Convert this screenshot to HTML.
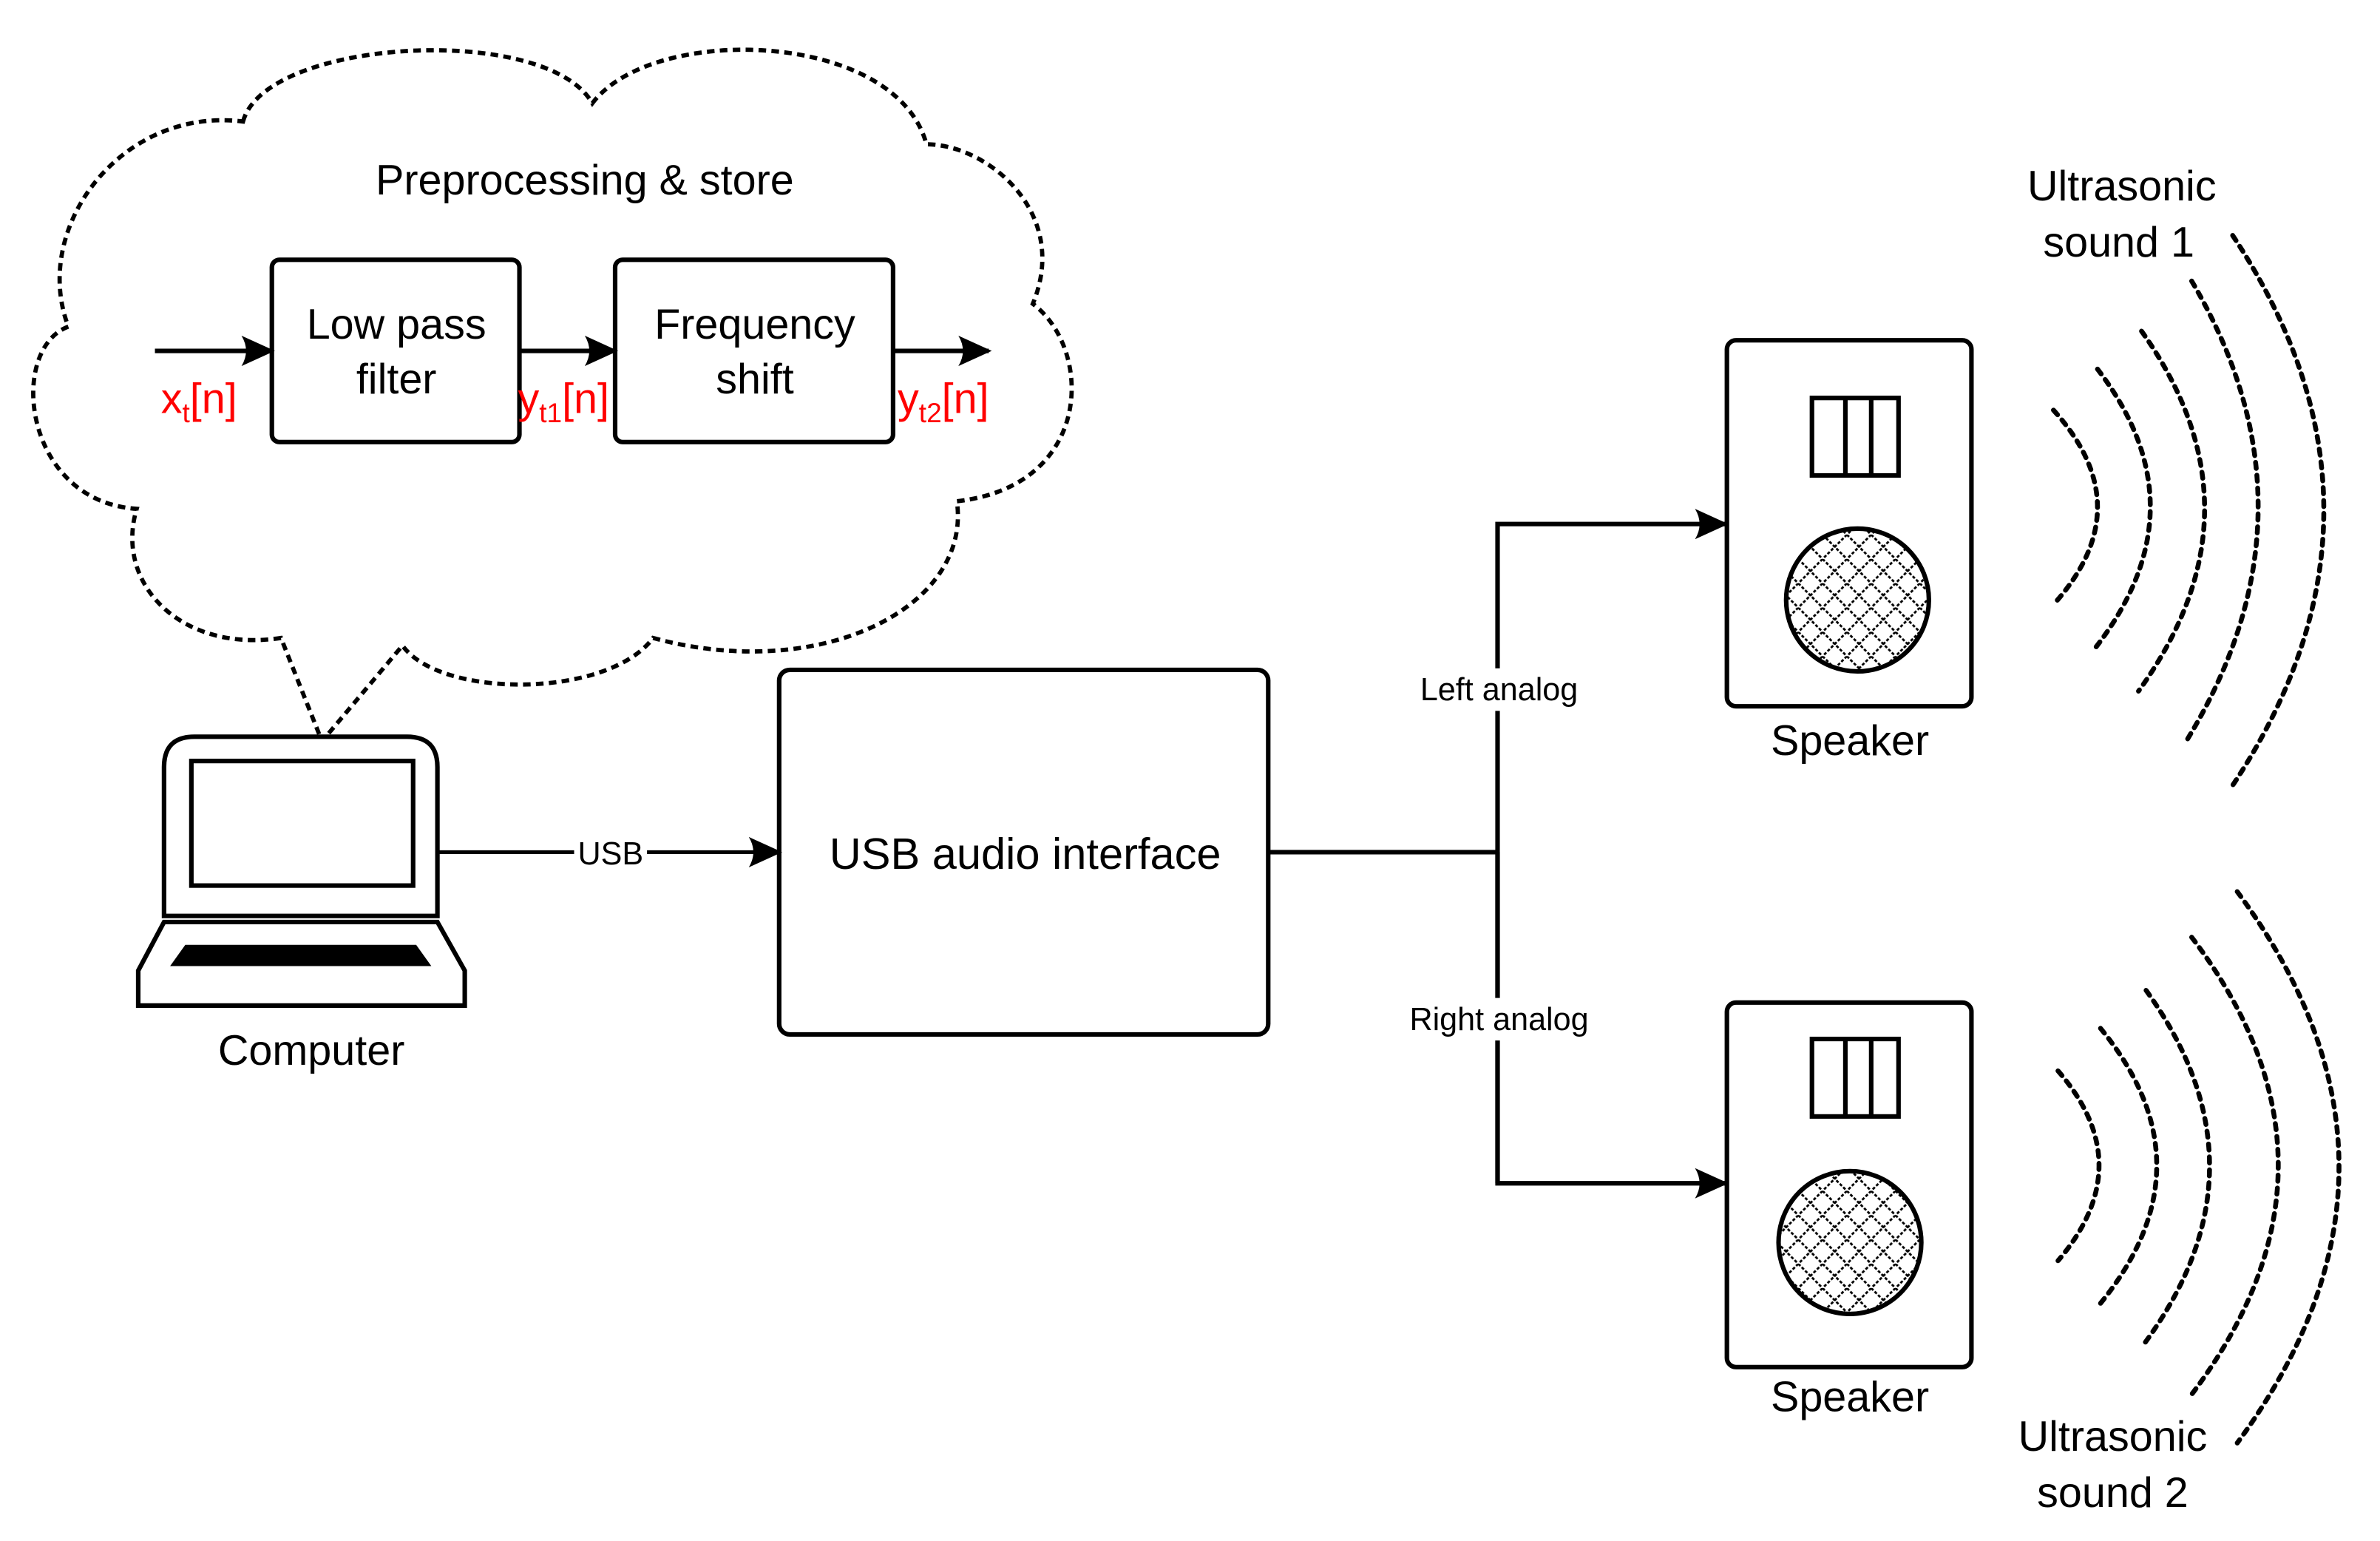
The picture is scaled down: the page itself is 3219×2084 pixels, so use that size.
<!DOCTYPE html>
<html><head><meta charset="utf-8"><style>
html,body{margin:0;padding:0;background:#fff;}
svg{display:block;}
text{font-family:"Liberation Sans","Noto Sans CJK KR",sans-serif;}
</style></head><body>
<svg width="3219" height="2084" viewBox="0 0 1567 1014.5" preserveAspectRatio="none" xmlns="http://www.w3.org/2000/svg">
<defs>
<pattern id="hatch" width="16" height="16" patternUnits="userSpaceOnUse">
<path d="M0,0 L16,16 M16,0 L0,16" stroke="#000" stroke-width="1.4" stroke-dasharray="2,1.2"/>
</pattern>
<marker id="ar2" markerWidth="22" markerHeight="20" refX="20" refY="10" orient="auto" markerUnits="userSpaceOnUse" viewBox="0 0 22 20">
<path d="M0,0 L22,10 L0,20 Q6,10 0,0Z" fill="#000"/>
</marker>
</defs>

<path d="M160,80 C175,25 360,15 390,68 C430,15 590,20 610,95 C650,95 705,140 680,200 C720,230 720,320 630,330 C640,400 540,450 430,420 C400,460 290,460 265,425 L212,488 L185,420 C120,430 75,385 90,335 C15,330 5,230 45,215 C20,150 80,70 160,80 Z" fill="none" stroke="#000" stroke-width="2.8" stroke-dasharray="5,3.5"/>

<text x="385" y="128" font-size="28" text-anchor="middle">Preprocessing &amp; store</text>

<rect x="179" y="171" width="163" height="120" rx="5" fill="none" stroke="#000" stroke-width="3"/>
<rect x="405" y="171" width="183" height="120" rx="5" fill="none" stroke="#000" stroke-width="3"/>
<text x="261" y="223" font-size="28" text-anchor="middle">Low pass</text>
<text x="261" y="259" font-size="28" text-anchor="middle">filter</text>
<text x="497" y="223" font-size="28" text-anchor="middle">Frequency</text>
<text x="497" y="259" font-size="28" text-anchor="middle">shift</text>
<line x1="102" y1="231" x2="179" y2="231" stroke="#000" stroke-width="3" marker-end="url(#ar2)"/>
<line x1="342" y1="231" x2="405" y2="231" stroke="#000" stroke-width="3" marker-end="url(#ar2)"/>
<line x1="588" y1="231" x2="651" y2="231" stroke="#000" stroke-width="3" marker-end="url(#ar2)"/>
<text x="106" y="272" font-size="28" fill="#f00">x<tspan font-size="18" dy="6">t</tspan><tspan dy="-6">[n]</tspan></text>
<text x="341" y="272" font-size="28" fill="#f00">y<tspan font-size="18" dy="6">t1</tspan><tspan dy="-6">[n]</tspan></text>
<text x="591" y="272" font-size="28" fill="#f00">y<tspan font-size="18" dy="6">t2</tspan><tspan dy="-6">[n]</tspan></text>

<path d="M108,603 L108,505 Q108,485 128,485 L268,485 Q288,485 288,505 L288,603 Z" fill="#fff" stroke="#000" stroke-width="3"/>
<rect x="126" y="501" width="146" height="82" fill="none" stroke="#000" stroke-width="3"/>
<path d="M108,607 L288,607 L306,639 L306,662 L91,662 L91,639 Z" fill="#fff" stroke="#000" stroke-width="3"/>
<path d="M122,622 L274,622 L284,636 L112,636 Z" fill="#000"/>
<text x="205" y="701" font-size="28" text-anchor="middle">Computer</text>

<line x1="288" y1="561" x2="513" y2="561" stroke="#000" stroke-width="2.5" marker-end="url(#ar2)"/>
<rect x="378" y="549" width="48" height="24" fill="#fff"/>
<text x="402" y="569" font-size="21" text-anchor="middle">USB</text>

<rect x="513" y="441" width="322" height="240" rx="7" fill="none" stroke="#000" stroke-width="3"/>
<text x="675" y="572" font-size="29" text-anchor="middle">USB audio interface</text>

<polyline points="835,561 986,561" fill="none" stroke="#000" stroke-width="3"/>
<polyline points="986,779 986,345 1136,345" fill="none" stroke="#000" stroke-width="3" marker-end="url(#ar2)"/>
<polyline points="986,561 986,779 1136,779" fill="none" stroke="#000" stroke-width="3" marker-end="url(#ar2)"/>
<rect x="922" y="440" width="128" height="28" fill="#fff"/>
<text x="987" y="461" font-size="21" text-anchor="middle">Left analog</text>
<rect x="915" y="657" width="144" height="28" fill="#fff"/>
<text x="987" y="678" font-size="21" text-anchor="middle">Right analog</text>

<rect x="1137" y="224" width="161" height="241" rx="6" fill="#fff" stroke="#000" stroke-width="3"/>
<rect x="1193" y="262" width="57" height="51" fill="none" stroke="#000" stroke-width="3"/>
<line x1="1215" y1="262" x2="1215" y2="313" stroke="#000" stroke-width="3"/>
<line x1="1232" y1="262" x2="1232" y2="313" stroke="#000" stroke-width="3"/>
<ellipse cx="1223" cy="395" rx="47" ry="47" fill="url(#hatch)" stroke="#000" stroke-width="3"/>
<text x="1218" y="497" font-size="28" text-anchor="middle">Speaker</text>

<rect x="1137" y="660" width="161" height="240" rx="6" fill="#fff" stroke="#000" stroke-width="3"/>
<rect x="1193" y="684" width="57" height="51" fill="none" stroke="#000" stroke-width="3"/>
<line x1="1215" y1="684" x2="1215" y2="735" stroke="#000" stroke-width="3"/>
<line x1="1232" y1="684" x2="1232" y2="735" stroke="#000" stroke-width="3"/>
<ellipse cx="1218" cy="818" rx="47" ry="47" fill="url(#hatch)" stroke="#000" stroke-width="3"/>
<text x="1218" y="929" font-size="28" text-anchor="middle">Speaker</text>

<g fill="none" stroke="#000" stroke-width="3.2" stroke-dasharray="4,4.5" stroke-linecap="round">
<path d="M1352,270 Q1410,334 1352,398"/>
<path d="M1381,243 Q1451,334 1380,426"/>
<path d="M1410,218 Q1494,336 1408,455"/>
<path d="M1443,185 Q1532,336 1440,487"/>
<path d="M1470,155 Q1590,336 1470,517"/>
<path d="M1355,705 Q1409,767 1355,830"/>
<path d="M1383,677 Q1457,767 1383,858"/>
<path d="M1413,652 Q1498,770 1410,887"/>
<path d="M1443,617 Q1557,767 1443,918"/>
<path d="M1473,587 Q1607,768 1473,950"/>
</g>
<text x="1397" y="132" font-size="28" text-anchor="middle">Ultrasonic</text>
<text x="1395" y="169" font-size="28" text-anchor="middle">sound 1</text>
<text x="1391" y="955" font-size="28" text-anchor="middle">Ultrasonic</text>
<text x="1391" y="992" font-size="28" text-anchor="middle">sound 2</text>
</svg>
</body></html>
